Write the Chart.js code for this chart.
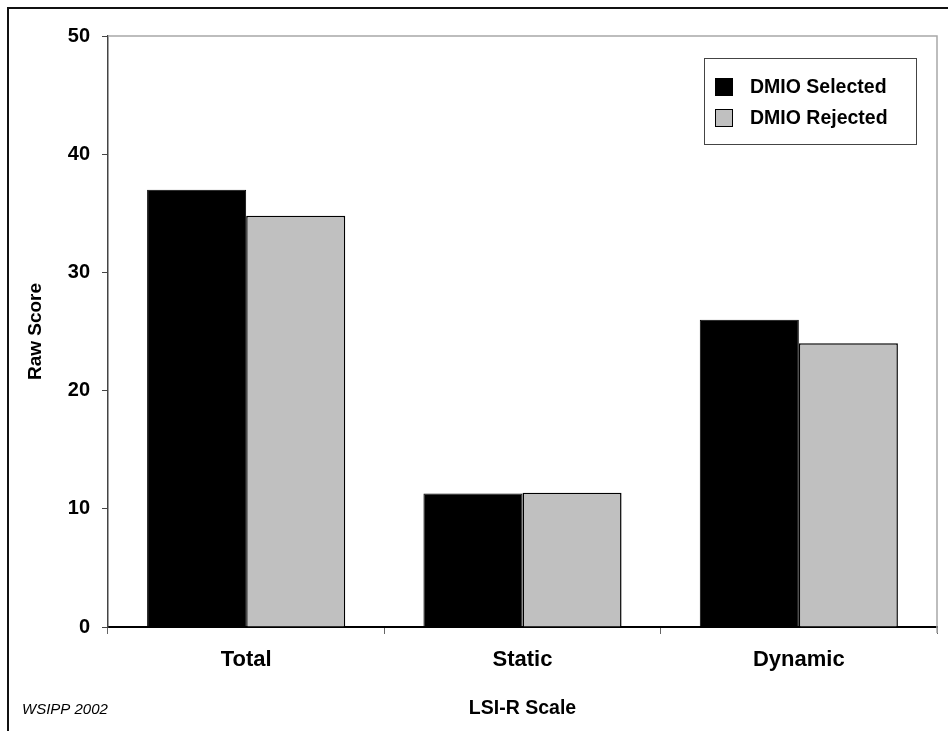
<!DOCTYPE html>
<html>
<head>
<meta charset="utf-8">
<script src="https://cdn.jsdelivr.net/npm/chart.js@4/dist/chart.umd.min.js"></script>
<style>
  html, body { margin: 0; padding: 0; background: #fff; }
  #wrap { width: 948px; height: 731px; position: relative; }
</style>
</head>
<body>
<div id="wrap"><canvas id="c" width="948" height="731"></canvas></div>
<script>
// LSI-R scale scores by DMIO decision
const categories = ['Total', 'Static', 'Dynamic'];
const selectedScores = [37, 11.3, 26];
const rejectedScores = [34.8, 11.35, 24];
const seriesNames = ['DMIO Selected', 'DMIO Rejected'];
const yTicks = [0, 10, 20, 30, 40, 50];

const FONT = '"Liberation Sans", Arial, Helvetica, sans-serif';

// Frame, plot-area edges, legend box and source note
const decorations = {
  id: 'decorations',
  beforeDraw(chart) {
    const ctx = chart.ctx;
    ctx.save();
    ctx.fillStyle = '#fff';
    ctx.fillRect(0, 0, chart.width, chart.height);
    ctx.restore();
  },
  afterDraw(chart) {
    const ctx = chart.ctx;
    const a = chart.chartArea;
    ctx.save();
    // outer frame
    ctx.strokeStyle = '#111';
    ctx.lineWidth = 2;
    ctx.beginPath();
    ctx.moveTo(8, chart.height);
    ctx.lineTo(8, 8);
    ctx.lineTo(chart.width, 8);
    ctx.stroke();

    // plot area top and right edges
    ctx.strokeStyle = '#a8a8a8';
    ctx.lineWidth = 1.5;
    ctx.beginPath();
    ctx.moveTo(a.left, a.top);
    ctx.lineTo(a.right, a.top);
    ctx.lineTo(a.right, a.bottom + 6);
    ctx.stroke();

    // legend
    const lx = 704, ly = 58, lw = 212, lh = 86;
    ctx.fillStyle = '#fff';
    ctx.fillRect(lx, ly, lw, lh);
    ctx.strokeStyle = '#444';
    ctx.lineWidth = 1;
    ctx.strokeRect(lx + 0.5, ly + 0.5, lw, lh);
    chart.data.datasets.forEach((ds, i) => {
      const sy = 78 + i * 31;
      ctx.fillStyle = ds.backgroundColor;
      ctx.fillRect(715, sy, 18, 18);
      ctx.strokeStyle = ds.borderColor;
      ctx.lineWidth = 1;
      ctx.strokeRect(715.5, sy + 0.5, 17, 17);
      ctx.fillStyle = '#000';
      ctx.font = 'bold 19.5px ' + FONT;
      ctx.textBaseline = 'middle';
      ctx.textAlign = 'left';
      ctx.fillText(ds.label, 750, sy + 10);
    });

    // source note
    ctx.fillStyle = '#000';
    ctx.font = 'italic 15px ' + FONT;
    ctx.textBaseline = 'middle';
    ctx.textAlign = 'left';
    ctx.fillText('WSIPP 2002', 22, 710);
    ctx.restore();
  }
};

new Chart(document.getElementById('c'), {
  type: 'bar',
  data: {
    labels: categories,
    datasets: [
      {
        label: seriesNames[0],
        data: selectedScores,
        backgroundColor: '#000000',
        borderColor: '#000000',
        borderWidth: 1
      },
      {
        label: seriesNames[1],
        data: rejectedScores,
        backgroundColor: '#c0c0c0',
        borderColor: '#000000',
        borderWidth: 1.5
      }
    ]
  },
  options: {
    responsive: false,
    animation: false,
    layout: { padding: { left: 0, top: 36, right: 11, bottom: 0 } },
    plugins: {
      legend: { display: false },
      tooltip: { enabled: false }
    },
    datasets: {
      bar: { categoryPercentage: 0.717, barPercentage: 1.0 }
    },
    scales: {
      x: {
        offset: true,
        grid: {
          offset: true,
          drawOnChartArea: false,
          drawTicks: true,
          tickLength: 7,
          color: '#666'
        },
        border: { color: '#000', width: 2 },
        ticks: {
          color: '#000',
          font: { family: FONT, size: 22, weight: 'bold' },
          padding: 13
        },
        title: {
          display: true,
          text: 'LSI-R Scale',
          color: '#000',
          font: { family: FONT, size: 19.5, weight: 'bold' },
          padding: { top: 11, bottom: 11 }
        },
        afterFit(scale) { scale.height = 104; }
      },
      y: {
        min: 0,
        max: 50,
        afterBuildTicks(scale) { scale.ticks = yTicks.map(v => ({ value: v })); },
        grid: {
          drawOnChartArea: false,
          drawTicks: true,
          tickLength: 6,
          color: '#444'
        },
        border: { color: '#444', width: 1.5 },
        ticks: {
          color: '#000',
          font: { family: FONT, size: 20, weight: 'bold' },
          padding: 12
        },
        title: {
          display: true,
          text: 'Raw Score',
          color: '#000',
          font: { family: FONT, size: 19, weight: 'bold' },
          padding: { top: 24, bottom: 24 }
        },
        afterFit(scale) { scale.width = 108; }
      }
    }
  },
  plugins: [decorations]
});
</script>
</body>
</html>
